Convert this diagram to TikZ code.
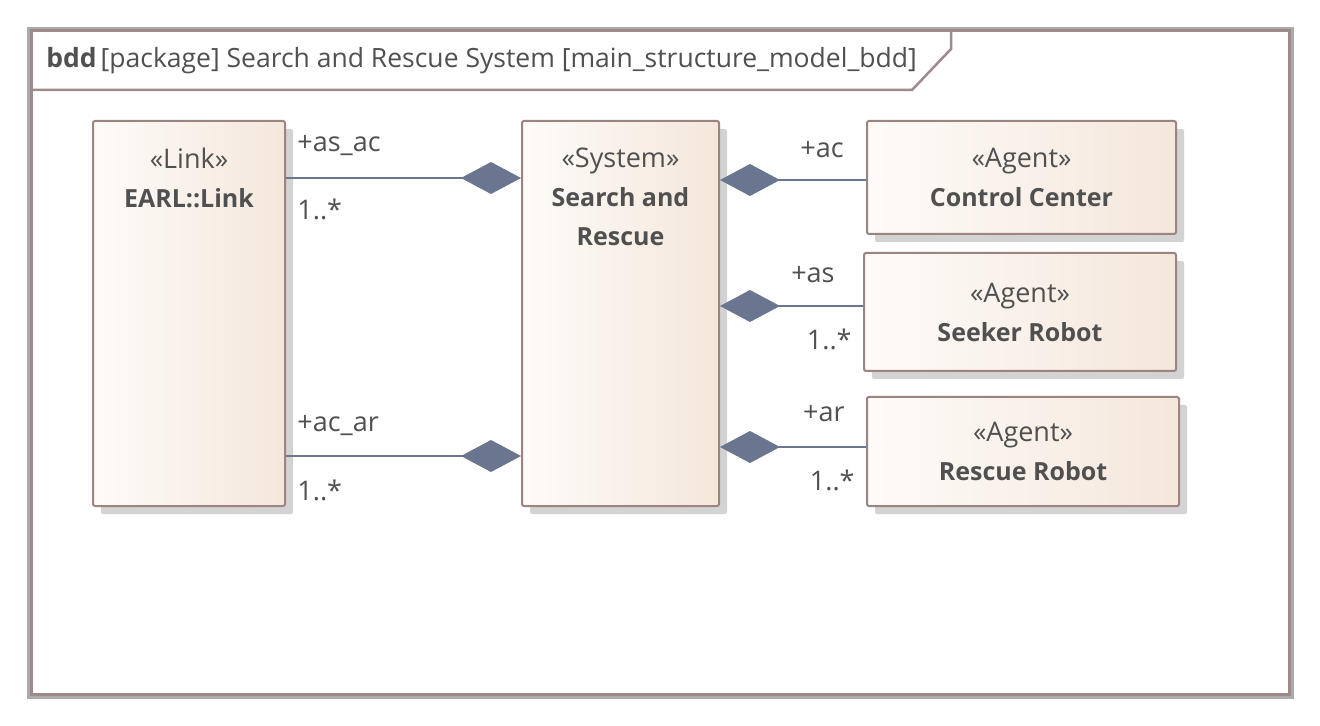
\documentclass[tikz,border=0pt]{standalone}
\usepackage{fontspec}
\setmainfont{Open Sans}
\usetikzlibrary{arrows.meta, positioning, shadows}

\definecolor{framebrown}{HTML}{9E8A88}
\definecolor{framegray}{HTML}{ABABAB}
\definecolor{boxline}{HTML}{9C8581}
\definecolor{boxleft}{HTML}{FEFBF8}
\definecolor{boxright}{HTML}{F4E7DC}
\definecolor{shadowgray}{HTML}{D3D3D3}
\definecolor{linkblue}{HTML}{6A7590}
\definecolor{txtgray}{HTML}{505050}

\newcommand{\stereo}[1]{{\fontsize{13.5}{19.5}\selectfont«#1»}}

\begin{document}
\begin{tikzpicture}[x=0.5pt, y=-0.5pt, text=txtgray,
  box/.style={draw=boxline, line width=1pt, rounded corners=1pt, left color=boxleft, right color=boxright,
    drop shadow={shadow xshift=4pt, shadow yshift=-4pt, fill=shadowgray, opacity=1},
    align=center, inner sep=0pt, font=\fontsize{12.5}{19.5}\selectfont},
  boxtext/.style={align=center, inner sep=0pt, font=\fontsize{12.5}{19.5}\selectfont},
  comp/.style={draw=linkblue, line width=1.4pt, {Diamond[length=30pt, width=16pt]}-},
  lbl/.style={inner sep=0pt, font=\fontsize{13.5}{16}\selectfont}]
\useasboundingbox (0,0) rectangle (1320,726);
\fill[white] (0,0) rectangle (1320,726);

% diagram frame and header tab
\draw[framegray, line width=1.5pt] (28.5,28.5) rectangle (1292,697);
\draw[framebrown, line width=1.5pt] (31,31) rectangle (1289.5,694.5);
\draw[framebrown, line width=1.25pt] (31,90) -- (912,90) -- (951,49) -- (951,31);
\node[lbl, font=\fontsize{13.25}{16}\selectfont, anchor=base west] (hdr) at (46,68)
  {\textbf{bdd}\kern2pt[package] Search and Rescue System [main\_structure\_model\_bdd]};

% blocks
\node[box, minimum width=96pt, minimum height=192.5pt] (link) at (189,313.5) {};
\node[boxtext, below=14pt of link.north] (linktxt) {\stereo{Link}\\\textbf{EARL::Link}};
\node[box, minimum width=98.5pt, minimum height=192.5pt] (sys) at (620.5,313.5) {};
\node[boxtext, below=14pt of sys.north] (systxt) {\stereo{System}\\\textbf{Search and}\\\textbf{Rescue}};
\node[box, minimum width=154.5pt, minimum height=56.5pt] (cc) at (1021.5,177.5) {\stereo{Agent}\\\textbf{Control Center}};
\node[box, minimum width=156pt, minimum height=59pt] (seek) at (1020,312) {\stereo{Agent}\\\textbf{Seeker Robot}};
\node[box, minimum width=156pt, minimum height=54.5pt] (resc) at (1023,451.5) {\stereo{Agent}\\\textbf{Rescue Robot}};

% part ends
\coordinate (p1) at ([yshift=67.75pt]link.east);
\coordinate (p2) at ([yshift=-71.25pt]link.east);
\coordinate (q1) at ([yshift=-1.25pt]cc.west);
\coordinate (q2) at ([yshift=3pt]seek.west);
\coordinate (q3) at ([yshift=2.25pt]resc.west);

% compositions
\draw[comp] (p1 -| sys.west) -- (p1)
  node[lbl, anchor=base west, xshift=5pt, yshift=13pt] (asac) {+as\_ac}
  node[lbl, anchor=base west, xshift=5pt, yshift=-21pt] (asacm) {1..*};
\draw[comp] (p2 -| sys.west) -- (p2)
  node[lbl, anchor=base west, xshift=5pt, yshift=12.5pt] (acar) {+ac\_ar}
  node[lbl, anchor=base west, xshift=5pt, yshift=-22pt] (acarm) {1..*};
\draw[comp] (q1 -| sys.east) -- (q1)
  node[lbl, anchor=base east, xshift=-10.5pt, yshift=11pt] (ac) {+ac};
\draw[comp] (q2 -| sys.east) -- (q2)
  node[lbl, anchor=base east, xshift=-13.5pt, yshift=11.5pt] (as) {+as}
  node[lbl, anchor=base east, xshift=-5pt, yshift=-22pt] (asm) {1..*};
\draw[comp] (q3 -| sys.east) -- (q3)
  node[lbl, anchor=base east, xshift=-10pt, yshift=12.5pt] (ar) {+ar}
  node[lbl, anchor=base east, xshift=-5pt, yshift=-21.5pt] (arm) {1..*};
\end{tikzpicture}
\end{document}
